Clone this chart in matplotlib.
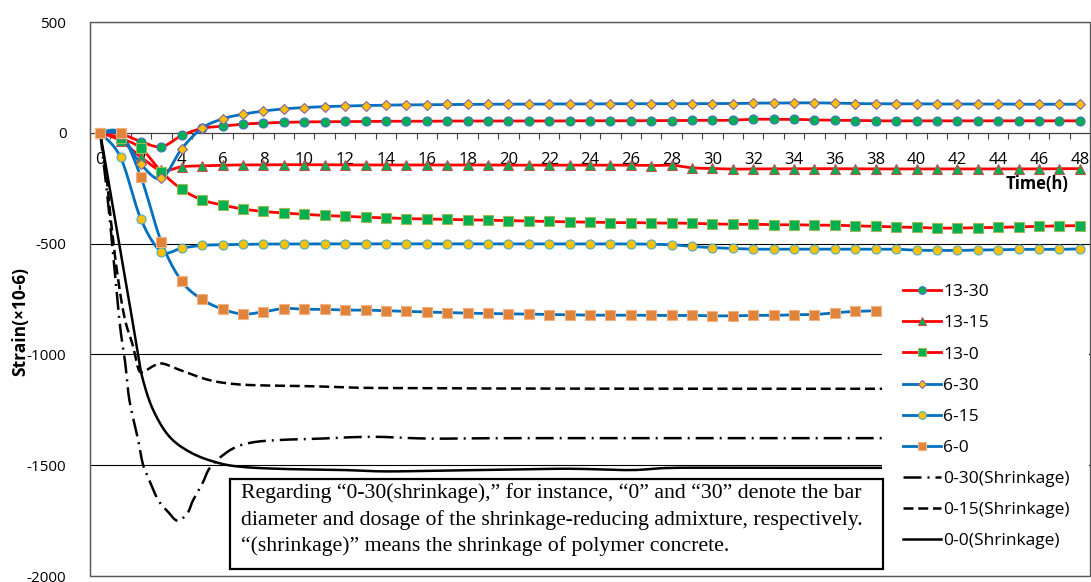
import numpy as np
import matplotlib
matplotlib.use('Agg')
import matplotlib.pyplot as plt
from matplotlib.lines import Line2D
from matplotlib.patches import Rectangle

plt.rcParams['font.family'] = ['Open Sans', 'DejaVu Sans']
plt.rcParams['axes.unicode_minus'] = False

hours = np.arange(0, 49)

s13_30 = [0, -5, -40, -63, -12, 20, 30, 39, 44, 47, 49, 50, 51, 51, 52, 52, 52, 53, 53, 53,
          53, 53, 53, 54, 54, 54, 54, 55, 55, 56, 56, 57, 61, 61, 61, 58, 57, 55, 54, 54,
          54, 54, 54, 54, 54, 54, 54, 54, 54]
s13_15 = [0, -36, -110, -170, -153, -149, -146, -145, -144, -144, -144, -144, -145, -145, -145,
          -145, -145, -145, -145, -145, -146, -146, -146, -146, -146, -146, -146, -148, -146,
          -158, -161, -164, -163, -163, -163, -162, -162, -162, -163, -163, -163, -163, -163,
          -163, -163, -163, -163, -162, -162]
s13_0 = [0, -25, -70, -176, -255, -303, -326, -344, -355, -362, -368, -373, -377, -381, -384,
         -387, -389, -391, -393, -395, -397, -399, -400, -402, -403, -405, -405, -407, -407,
         -409, -411, -413, -413, -415, -415, -417, -417, -420, -422, -425, -427, -430, -430,
         -428, -427, -424, -422, -420, -419]
s6_30 = [0, -10, -142, -206, -71, 21, 63, 84, 98, 108, 114, 118, 121, 123, 125, 126, 127, 128,
         128, 129, 129, 129, 130, 130, 130, 131, 131, 131, 131, 131, 132, 132, 134, 134, 135,
         135, 134, 132, 131, 131, 131, 130, 130, 130, 130, 129, 129, 129, 129]
s6_15 = [0, -111, -391, -536, -520, -508, -505, -503, -502, -502, -501, -501, -501, -501, -501,
         -501, -501, -501, -501, -501, -501, -501, -501, -501, -501, -501, -501, -503, -505,
         -513, -518, -522, -525, -525, -525, -525, -525, -525, -525, -525, -530, -530, -531,
         -529, -528, -526, -526, -526, -524]
s6_0 = [0, -3, -201, -494, -671, -752, -796, -818, -808, -793, -796, -797, -800, -800, -803,
        -806, -809, -811, -814, -815, -817, -818, -820, -821, -823, -823, -823, -824, -824,
        -824, -826, -826, -824, -824, -821, -820, -812, -806, -803]

h_0_30 = [0, 0.25, 0.5, 0.94, 1.22, 1.43, 1.84, 2.08, 2.33, 2.82, 3.31, 3.8, 4.29, 4.53, 5.02,
          5.43, 6.4, 7.4, 8.85, 10.8, 11.9, 13.6, 16.2, 20, 30, 40, 48]
v_0_30 = [0, -200, -420, -846, -1034, -1206, -1378, -1491, -1551, -1654, -1709, -1751, -1714,
          -1662, -1580, -1505, -1430, -1398, -1386, -1380, -1375, -1372, -1380, -1378, -1378,
          -1378, -1378]
h_0_15 = [0, 0.3, 0.55, 0.85, 1.2, 1.6, 1.85, 2.0, 2.25, 2.7, 3.1, 3.9, 5.3, 6.6, 8, 10.5, 13,
          16, 20, 30, 40, 48]
v_0_15 = [0, -190, -418, -643, -838, -960, -1060, -1080, -1072, -1048, -1042, -1070, -1115,
          -1134, -1140, -1144, -1151, -1152, -1154, -1155, -1155, -1155]
h_0_0 = [0, 0.5, 1.0, 1.5, 1.85, 2.1, 2.6, 3.4, 4.5, 5.8, 7, 9, 12, 14, 17, 20, 23, 26, 28, 32,
         36, 40, 44, 48]
v_0_0 = [0, -270, -540, -805, -1000, -1117, -1252, -1372, -1446, -1490, -1508, -1517, -1522,
         -1528, -1524, -1520, -1516, -1522, -1512, -1512, -1512, -1512, -1512, -1512]

note = ["Regarding \u201c0-30(shrinkage),\u201d for instance, \u201c0\u201d and \u201c30\u201d denote the bar",
        "diameter and dosage of the shrinkage-reducing admixture, respectively.",
        "\u201c(shrinkage)\u201d means the shrinkage of polymer concrete."]

W, H = 1091, 582
fig = plt.figure(figsize=(W / 100, H / 100), dpi=100)
ax = fig.add_axes([90 / W, 1 - 576 / H, 1000 / W, 554 / H])
ax.set_xlim(-0.5, 48.5)
ax.set_ylim(-2000, 500)

# scale for smoothing in pixel space
sx, sy = 20.4, 554 / 2500


def smooth(x, y, n=16):
    px = np.asarray(x, float) * sx
    py = np.asarray(y, float) * sy
    P = np.column_stack([px, py])
    P = np.vstack([P[0], P, P[-1]])
    out = []
    for i in range(1, len(P) - 2):
        p0, p1, p2, p3 = P[i - 1], P[i], P[i + 1], P[i + 2]
        t = np.linspace(0, 1, n)[:, None]
        c = 0.5 * ((2 * p1) + (-p0 + p2) * t + (2 * p0 - 5 * p1 + 4 * p2 - p3) * t ** 2
                   + (-p0 + 3 * p1 - 3 * p2 + p3) * t ** 3)
        out.append(c if i == 1 else c[1:])
    c = np.vstack(out)
    return c[:, 0] / sx, c[:, 1] / sy


red, blue = '#FF0000', '#0070C0'
series = [
    (s13_30, red, 'o', '#00B050', '#4472C4', 6.5, '13-30'),
    (s13_15, red, '^', '#00B050', '#C0504D', 7, '13-15'),
    (s13_0, red, 's', '#00B050', '#9BBB59', 6.5, '13-0'),
    (s6_30, blue, 'D', '#FFC000', '#8064A2', 5, '6-30'),
    (s6_15, blue, 'o', '#FFC000', '#4BACC6', 6.5, '6-15'),
    (s6_0, blue, 's', '#E0843C', '#F4B183', 6.5, '6-0'),
]
handles = []
for vals, lc, mk, mfc, mec, ms, lab in series:
    x = hours[:len(vals)]
    xs, ys = smooth(x, vals)
    ax.plot(xs, ys, color=lc, lw=2, zorder=3, solid_capstyle='round')
    ax.plot(x, vals, ls='none', marker=mk, ms=ms, mfc=mfc, mec=mec, mew=0.8, zorder=4)
    handles.append(Line2D([], [], color=lc, lw=2, marker=mk, ms=ms * 0.85, mfc=mfc, mec=mec,
                          mew=0.8, label=lab))

black = [
    (h_0_30, v_0_30, (0, (7.2, 2.4, 0.8, 2.4)), '0-30(Shrinkage)'),
    (h_0_15, v_0_15, (0, (4, 1.9)), '0-15(Shrinkage)'),
    (h_0_0, v_0_0, '-', '0-0(Shrinkage)'),
]
for hx, vy, ls, lab in black:
    xs, ys = smooth(hx, vy, 10)
    ax.plot(xs, ys, color='black', lw=1.8, ls=ls, zorder=3)
    handles.append(Line2D([], [], color='black', lw=1.8, ls=ls, label=lab))

# axes styling
ax.spines['bottom'].set_position(('data', 0))
ax.spines['bottom'].set_color('#404040')
ax.spines['left'].set_color('#404040')
for s in ['top', 'right']:
    ax.spines[s].set_visible(False)
ax.add_patch(Rectangle((0, 0), 1, 1, transform=ax.transAxes, fill=False,
                       ec='#595959', lw=1, zorder=5, clip_on=False))

ax.set_xticks(np.arange(0, 49, 2))
ax.set_xticks(np.arange(-0.5, 49, 1), minor=True)
ax.tick_params(axis='x', which='major', length=0, pad=14, labelsize=12)
ax.tick_params(axis='x', which='minor', length=4, width=0.8, color='#404040', direction='out')
ax.set_yticks(np.arange(-2000, 501, 500))
ax.tick_params(axis='y', length=0, pad=17, labelsize=11)
ax.yaxis.grid(True, color='black', lw=0.8, zorder=1)
ax.set_axisbelow(True)

ax.text(45.9, -232, 'Time(h)', ha='center', va='center', fontsize=12, fontweight='bold')
fig.text(20 / W, 1 - 322 / H, 'Strain(\u00d710-6)', rotation=90, ha='center', va='center',
         fontsize=12.5, fontweight='bold')

# white area behind the legend, as in the reference
ax.add_patch(Rectangle((882 / W, 1 - 566 / H), 207 / W, 296 / H, transform=fig.transFigure,
                       fc='white', ec='none', zorder=5.5, clip_on=False))
leg = ax.legend(handles=handles, loc='upper left', bbox_to_anchor=(898 / W, 1 - 279 / H),
                bbox_transform=fig.transFigure, fontsize=12.5, frameon=False,
                handlelength=2.2, handletextpad=0.1, labelspacing=0.86, borderpad=0.3,
                borderaxespad=0)
leg.set_zorder(6)

# note box
fig.patches.append(Rectangle((230 / W, 1 - 569 / H), 653 / W, 90 / H, transform=fig.transFigure,
                             fc='white', ec='black', lw=1.6, zorder=7))
for i, line in enumerate(note):
    fig.text(241 / W, 1 - (498 + 26.5 * i) / H, line, ha='left', va='baseline',
             fontsize=15.7, family='Liberation Serif', zorder=8)

fig.savefig('out.png', dpi=100)
